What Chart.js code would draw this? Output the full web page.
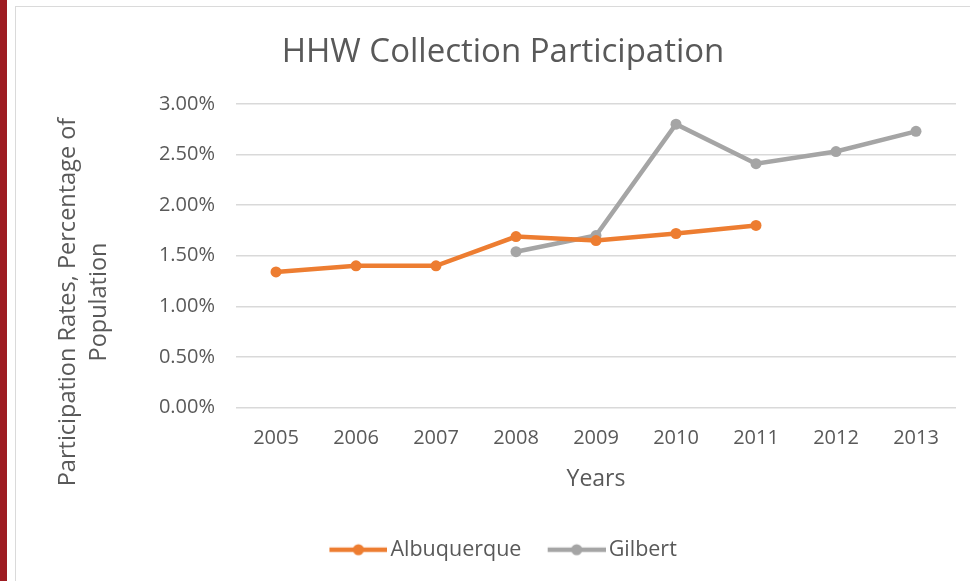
<!DOCTYPE html>
<html lang="en">
<head>
  <meta charset="UTF-8" />
  <title>HHW Collection Participation</title>
  <script src="https://cdn.jsdelivr.net/npm/chart.js"></script>
  <style>
    html, body { margin: 0; padding: 0; background: #fff; }
    #wrap { position: relative; width: 970px; height: 581px; overflow: hidden; }
    /* dark red rule on the left and the light frame of the chart */
    #redBar { position: absolute; left: 0; top: 0; width: 7px; height: 581px; background: #9e1c22; }
    #frame  { position: absolute; left: 15px; top: 6px; width: 970px; height: 600px;
              border-left: 1.5px solid #dadada; border-top: 1.5px solid #dadada; }
    #chart  { position: absolute; left: 0; top: 0; }
  </style>
</head>
<body>
  <div id="wrap">
    <div id="redBar"></div>
    <div id="frame"></div>
    <canvas id="chart" width="970" height="581"></canvas>
  </div>

  <script>
    // data (percent of population)
    const years        = ["2005", "2006", "2007", "2008", "2009", "2010", "2011", "2012", "2013"];
    const albuquerque  = [1.34, 1.40, 1.40, 1.69, 1.65, 1.72, 1.80, null, null];
    const gilbert      = [null, null, null, 1.54, 1.70, 2.80, 2.41, 2.53, 2.73];
    const seriesNames  = ["Albuquerque", "Gilbert"];
    const seriesColors = ["#ed7d31", "#a5a5a5"];
    const yTitleLines  = ["Participation Rates, Percentage of", "Population"];

    const FONT = "'Open Sans', sans-serif";
    const TEXT = "#595959";

    // legend glyph: short line with a dot; 7.5px blank on the left so the
    // visible glyph starts at the legend box edge and ends just before the text
    function legendGlyph(color) {
      const c = document.createElement("canvas");
      c.width = 66; c.height = 14;
      const g = c.getContext("2d");
      g.strokeStyle = color; g.lineWidth = 4.5;
      g.beginPath(); g.moveTo(8, 7); g.lineTo(66, 7); g.stroke();
      g.fillStyle = color;
      g.beginPath(); g.arc(37, 7, 5.5, 0, Math.PI * 2); g.fill();
      return c;
    }
    const glyphs = seriesColors.map(legendGlyph);

    // y axis title, centred the way the original chart has it
    const yTitlePlugin = {
      id: "yTitle",
      afterDraw(chart) {
        const ctx = chart.ctx;
        ctx.save();
        ctx.fillStyle = TEXT;
        ctx.font = "23.5px " + FONT;
        ctx.textAlign = "center";
        ctx.textBaseline = "middle";
        [68, 99].forEach((x, i) => {
          ctx.save();
          ctx.translate(x, 302);
          ctx.rotate(-Math.PI / 2);
          ctx.fillText(yTitleLines[i], 0, 0);
          ctx.restore();
        });
        ctx.restore();
      }
    };

    const ds = [albuquerque, gilbert].map((d, i) => ({
      label: seriesNames[i],
      data: d,
      borderColor: seriesColors[i],
      backgroundColor: seriesColors[i],
      borderWidth: 4.5,
      pointRadius: 5.5,
      pointHoverRadius: 5.5,
      pointBackgroundColor: seriesColors[i],
      pointBorderWidth: 0,
      tension: 0,
      spanGaps: false
    }));

    new Chart(document.getElementById("chart"), {
      type: "line",
      data: { labels: years, datasets: ds },
      plugins: [yTitlePlugin],
      options: {
        responsive: false,
        animation: false,
        layout: { padding: { left: 50, right: 14, top: 0, bottom: 10.5 } },
        plugins: {
          title: {
            display: true,
            text: "HHW Collection Participation",
            color: TEXT,
            font: { family: FONT, size: 33, weight: "normal" },
            padding: { top: 33, bottom: 31.4 }
          },
          legend: {
            position: "bottom",
            labels: {
              color: TEXT,
              font: { family: FONT, size: 21.5 },
              usePointStyle: true,
              pointStyleWidth: 50.5,
              padding: 26,
              generateLabels(chart) {
                const items = Chart.defaults.plugins.legend.labels.generateLabels(chart);
                items.forEach((it, i) => { it.pointStyle = glyphs[i]; });
                return items;
              }
            }
          },
          tooltip: { enabled: false }
        },
        scales: {
          x: {
            offset: true,
            grid: { display: false, drawTicks: false },
            border: { display: false },
            ticks: { color: TEXT, font: { family: FONT, size: 20 }, padding: 18.5 },
            title: {
              display: true,
              text: "Years",
              color: TEXT,
              font: { family: FONT, size: 23 },
              padding: { top: -2.8, bottom: 19.7 }
            }
          },
          y: {
            min: 0,
            max: 3,
            afterFit(scale) { scale.width = 186; },
            grid: { color: "#d9d9d9", lineWidth: 1.5, drawTicks: false },
            border: { display: false },
            ticks: {
              stepSize: 0.5,
              color: TEXT,
              font: { family: FONT, size: 20 },
              padding: 21,
              callback: v => v.toFixed(2) + "%"
            }
          }
        }
      }
    });
  </script>
</body>
</html>
